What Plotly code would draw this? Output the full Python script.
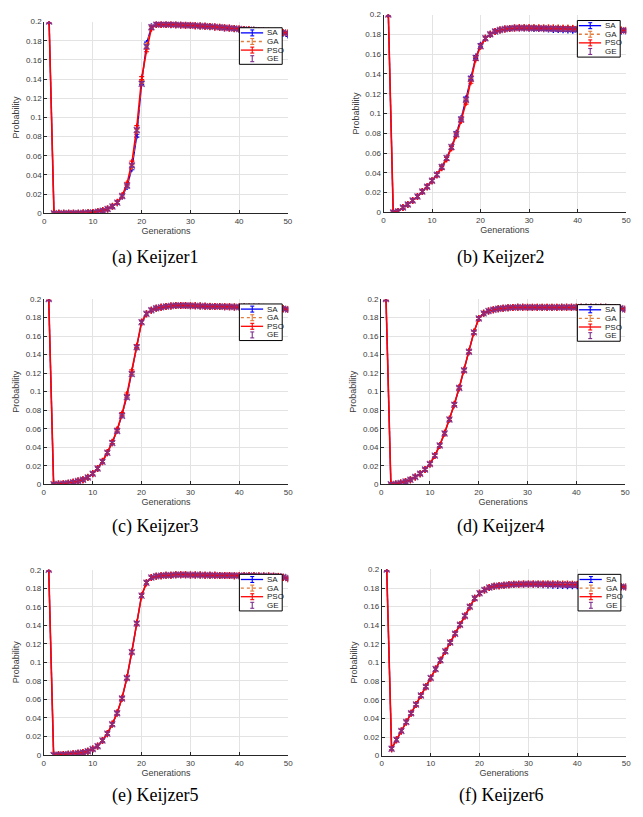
import plotly.graph_objects as go

GENERATIONS = list(range(1, 51))
SERIES_NAMES = ["SA", "GA", "PSO", "GE"]
CAPTIONS = ["(a) Keijzer1", "(b) Keijzer2", "(c) Keijzer3", "(d) Keijzer4", "(e) Keijzer5", "(f) Keijzer6"]
X_TICKS = [0, 10, 20, 30, 40, 50]
Y_TICKS = [0, 0.02, 0.04, 0.06, 0.08, 0.1, 0.12, 0.14, 0.16, 0.18, 0.2]

# ---- Keijzer1 ----
K1_SA = [0.2, 0.0, 0.0, 0.0, 0.0001, 0.0001, 0.0002, 0.0004, 0.0006, 0.001, 0.0017, 0.0028, 0.0045, 0.0071, 0.011, 0.0178, 0.028, 0.047, 0.081, 0.136, 0.177, 0.1945, 0.197, 0.197, 0.1969, 0.1967, 0.1965, 0.1963, 0.1961, 0.1959, 0.1956, 0.1953, 0.195, 0.1946, 0.1942, 0.1937, 0.1933, 0.1929, 0.1925, 0.192, 0.1916, 0.1912, 0.1908, 0.1904, 0.19, 0.1896, 0.1891, 0.1886, 0.1878, 0.186]
K1_GA = [0.2, 0.0, 0.0, 0.0, 0.0001, 0.0001, 0.0002, 0.0004, 0.0006, 0.001, 0.0017, 0.0028, 0.0045, 0.0072, 0.0112, 0.018, 0.029, 0.049, 0.086, 0.137, 0.175, 0.194, 0.197, 0.197, 0.197, 0.1968, 0.1966, 0.1964, 0.1962, 0.196, 0.1957, 0.1954, 0.1951, 0.1948, 0.1944, 0.1939, 0.1935, 0.1931, 0.1927, 0.1922, 0.1918, 0.1914, 0.191, 0.1906, 0.1902, 0.1898, 0.1894, 0.189, 0.1885, 0.188]
K1_PSO = [0.2, 0.0, 0.0, 0.0, 0.0001, 0.0001, 0.0002, 0.0004, 0.0006, 0.001, 0.0017, 0.0029, 0.0046, 0.0074, 0.0115, 0.0185, 0.031, 0.053, 0.09, 0.141, 0.17, 0.193, 0.197, 0.197, 0.197, 0.1968, 0.1966, 0.1964, 0.1962, 0.196, 0.1957, 0.1954, 0.1951, 0.1948, 0.1944, 0.194, 0.1936, 0.1932, 0.1927, 0.1922, 0.1918, 0.1914, 0.191, 0.1906, 0.1902, 0.1898, 0.1894, 0.189, 0.1885, 0.1881]
K1_GE = [0.2, 0.0, 0.0, 0.0, 0.0001, 0.0001, 0.0002, 0.0004, 0.0006, 0.001, 0.0017, 0.0028, 0.0045, 0.0072, 0.0112, 0.018, 0.029, 0.05, 0.087, 0.135, 0.174, 0.194, 0.197, 0.197, 0.197, 0.1968, 0.1966, 0.1964, 0.1962, 0.196, 0.1957, 0.1954, 0.1951, 0.1948, 0.1944, 0.1939, 0.1935, 0.1931, 0.1927, 0.1922, 0.1918, 0.1914, 0.191, 0.1906, 0.1902, 0.1898, 0.1894, 0.189, 0.1885, 0.1879]

# ---- Keijzer2 ----
K2_SA = [0.2, 0.0, 0.001, 0.005, 0.008, 0.012, 0.016, 0.021, 0.026, 0.032, 0.038, 0.046, 0.055, 0.066, 0.08, 0.095, 0.115, 0.136, 0.157, 0.169, 0.176, 0.18, 0.183, 0.1845, 0.1855, 0.186, 0.1864, 0.1865, 0.1864, 0.1862, 0.186, 0.1858, 0.1856, 0.1853, 0.185, 0.1848, 0.1846, 0.1844, 0.1842, 0.1841, 0.184, 0.184, 0.1839, 0.1839, 0.1838, 0.1838, 0.1837, 0.1836, 0.1835, 0.1834]
K2_GA = [0.2, 0.0, 0.001, 0.005, 0.008, 0.012, 0.016, 0.021, 0.026, 0.032, 0.038, 0.046, 0.055, 0.066, 0.079, 0.094, 0.113, 0.134, 0.156, 0.168, 0.176, 0.18, 0.183, 0.1845, 0.1855, 0.186, 0.1865, 0.1866, 0.1866, 0.1866, 0.1866, 0.1866, 0.1865, 0.1865, 0.1864, 0.1864, 0.1863, 0.1862, 0.1861, 0.186, 0.1859, 0.1857, 0.1855, 0.1853, 0.1851, 0.1849, 0.1847, 0.1845, 0.1843, 0.1841]
K2_PSO = [0.2, 0.0, 0.001, 0.005, 0.008, 0.012, 0.016, 0.021, 0.026, 0.032, 0.038, 0.045, 0.054, 0.065, 0.078, 0.093, 0.111, 0.132, 0.155, 0.168, 0.176, 0.18, 0.183, 0.1845, 0.1855, 0.186, 0.1865, 0.1866, 0.1866, 0.1866, 0.1866, 0.1865, 0.1865, 0.1864, 0.1864, 0.1863, 0.1862, 0.1861, 0.186, 0.1859, 0.1858, 0.1856, 0.1854, 0.1852, 0.185, 0.1848, 0.1846, 0.1844, 0.1842, 0.184]
K2_GE = [0.2, 0.0, 0.001, 0.005, 0.008, 0.012, 0.016, 0.021, 0.026, 0.032, 0.038, 0.046, 0.055, 0.066, 0.079, 0.094, 0.114, 0.135, 0.156, 0.168, 0.176, 0.18, 0.183, 0.1845, 0.1855, 0.186, 0.1865, 0.1865, 0.1865, 0.1864, 0.1863, 0.1862, 0.1861, 0.186, 0.1859, 0.1857, 0.1855, 0.1853, 0.1851, 0.185, 0.1849, 0.1848, 0.1847, 0.1846, 0.1845, 0.1844, 0.1843, 0.1842, 0.1841, 0.184]

# ---- Keijzer3 ----
K3_SA = [0.2, 0.0, 0.0003, 0.0007, 0.0013, 0.0022, 0.0035, 0.005, 0.0075, 0.0115, 0.017, 0.0245, 0.034, 0.045, 0.058, 0.075, 0.095, 0.12, 0.148, 0.175, 0.184, 0.188, 0.19, 0.191, 0.192, 0.1925, 0.193, 0.193, 0.193, 0.1928, 0.1926, 0.1924, 0.1922, 0.192, 0.1919, 0.1918, 0.1917, 0.1916, 0.1915, 0.1914, 0.1913, 0.1912, 0.1911, 0.191, 0.1909, 0.1907, 0.1905, 0.1902, 0.1895, 0.1887]
K3_GA = [0.2, 0.0, 0.0003, 0.0007, 0.0013, 0.0022, 0.0035, 0.005, 0.0075, 0.0115, 0.017, 0.0245, 0.034, 0.045, 0.058, 0.075, 0.095, 0.12, 0.148, 0.175, 0.184, 0.188, 0.19, 0.191, 0.192, 0.1925, 0.193, 0.193, 0.193, 0.1929, 0.1927, 0.1925, 0.1923, 0.1921, 0.192, 0.1919, 0.1918, 0.1917, 0.1916, 0.1915, 0.1914, 0.1913, 0.1912, 0.1911, 0.191, 0.1908, 0.1906, 0.1903, 0.1896, 0.1889]
K3_PSO = [0.2, 0.0, 0.0003, 0.0007, 0.0013, 0.0022, 0.0035, 0.005, 0.0076, 0.0116, 0.0172, 0.0248, 0.0345, 0.0455, 0.059, 0.076, 0.097, 0.122, 0.149, 0.175, 0.184, 0.188, 0.19, 0.191, 0.192, 0.1925, 0.193, 0.193, 0.193, 0.1928, 0.1926, 0.1924, 0.1922, 0.192, 0.1919, 0.1918, 0.1917, 0.1916, 0.1915, 0.1914, 0.1913, 0.1912, 0.1911, 0.191, 0.1909, 0.1907, 0.1905, 0.1902, 0.1895, 0.1888]
K3_GE = [0.2, 0.0, 0.0003, 0.0007, 0.0013, 0.0022, 0.0035, 0.005, 0.0075, 0.0115, 0.017, 0.0245, 0.034, 0.0445, 0.0575, 0.074, 0.094, 0.119, 0.148, 0.175, 0.184, 0.188, 0.19, 0.191, 0.192, 0.1925, 0.193, 0.193, 0.193, 0.1928, 0.1926, 0.1924, 0.1922, 0.192, 0.1919, 0.1918, 0.1917, 0.1916, 0.1915, 0.1914, 0.1913, 0.1912, 0.1911, 0.191, 0.1909, 0.1907, 0.1905, 0.1902, 0.1895, 0.1888]

# ---- Keijzer4 ----
K4_SA = [0.2, 0.0, 0.0005, 0.0015, 0.003, 0.005, 0.008, 0.0115, 0.016, 0.022, 0.031, 0.042, 0.055, 0.07, 0.086, 0.104, 0.123, 0.143, 0.164, 0.179, 0.1845, 0.187, 0.1885, 0.1895, 0.19, 0.1905, 0.1908, 0.191, 0.191, 0.1909, 0.1909, 0.1909, 0.1909, 0.1909, 0.1909, 0.1909, 0.191, 0.191, 0.191, 0.191, 0.191, 0.191, 0.191, 0.191, 0.191, 0.191, 0.1908, 0.1905, 0.19, 0.189]
K4_GA = [0.2, 0.0, 0.0005, 0.0015, 0.003, 0.005, 0.008, 0.0115, 0.016, 0.022, 0.031, 0.042, 0.055, 0.07, 0.086, 0.104, 0.123, 0.143, 0.164, 0.179, 0.1845, 0.187, 0.1885, 0.1895, 0.19, 0.1905, 0.1908, 0.191, 0.191, 0.191, 0.1911, 0.1911, 0.1911, 0.1911, 0.1911, 0.1911, 0.1911, 0.1911, 0.1911, 0.1911, 0.1911, 0.1911, 0.1911, 0.1911, 0.1911, 0.1911, 0.1909, 0.1906, 0.1901, 0.1891]
K4_PSO = [0.2, 0.0, 0.0005, 0.0015, 0.003, 0.005, 0.008, 0.0115, 0.016, 0.022, 0.031, 0.042, 0.0555, 0.0705, 0.0865, 0.1045, 0.1235, 0.1435, 0.164, 0.179, 0.1845, 0.187, 0.1885, 0.1895, 0.19, 0.1905, 0.1908, 0.191, 0.191, 0.191, 0.191, 0.191, 0.191, 0.191, 0.191, 0.191, 0.191, 0.191, 0.191, 0.191, 0.191, 0.191, 0.191, 0.191, 0.191, 0.191, 0.1908, 0.1905, 0.19, 0.189]
K4_GE = [0.2, 0.0, 0.0005, 0.0015, 0.003, 0.005, 0.008, 0.0115, 0.016, 0.022, 0.031, 0.042, 0.055, 0.07, 0.086, 0.104, 0.123, 0.143, 0.164, 0.179, 0.1845, 0.187, 0.1885, 0.1895, 0.19, 0.1905, 0.1908, 0.191, 0.191, 0.191, 0.191, 0.191, 0.191, 0.191, 0.191, 0.191, 0.191, 0.191, 0.191, 0.191, 0.191, 0.191, 0.191, 0.191, 0.191, 0.191, 0.1908, 0.1905, 0.19, 0.189]

# ---- Keijzer5 ----
K5_SA = [0.2, 0.0, 0.0002, 0.0005, 0.0008, 0.0012, 0.0018, 0.0027, 0.004, 0.0063, 0.0095, 0.0155, 0.023, 0.033, 0.045, 0.061, 0.083, 0.111, 0.142, 0.172, 0.186, 0.1915, 0.193, 0.1935, 0.194, 0.194, 0.1945, 0.1945, 0.1945, 0.1944, 0.1943, 0.1942, 0.1941, 0.194, 0.1939, 0.1938, 0.1937, 0.1937, 0.1936, 0.1936, 0.1935, 0.1935, 0.1934, 0.1933, 0.1932, 0.1931, 0.193, 0.1927, 0.1918, 0.1905]
K5_GA = [0.2, 0.0, 0.0002, 0.0005, 0.0008, 0.0012, 0.0018, 0.0027, 0.004, 0.0063, 0.0095, 0.0155, 0.023, 0.033, 0.045, 0.061, 0.083, 0.111, 0.142, 0.172, 0.186, 0.1915, 0.193, 0.1935, 0.194, 0.194, 0.1945, 0.1945, 0.1945, 0.1944, 0.1943, 0.1942, 0.1941, 0.194, 0.1939, 0.1938, 0.1937, 0.1937, 0.1936, 0.1936, 0.1935, 0.1935, 0.1934, 0.1933, 0.1932, 0.1931, 0.193, 0.1928, 0.192, 0.191]
K5_PSO = [0.2, 0.0, 0.0002, 0.0005, 0.0008, 0.0012, 0.0018, 0.0027, 0.004, 0.0064, 0.0096, 0.0157, 0.0232, 0.0333, 0.0455, 0.0615, 0.0835, 0.1115, 0.1425, 0.172, 0.186, 0.1915, 0.193, 0.1935, 0.194, 0.194, 0.1945, 0.1945, 0.1945, 0.1944, 0.1943, 0.1942, 0.1941, 0.194, 0.1939, 0.1938, 0.1937, 0.1937, 0.1936, 0.1936, 0.1935, 0.1935, 0.1934, 0.1933, 0.1932, 0.1931, 0.193, 0.1927, 0.1915, 0.19]
K5_GE = [0.2, 0.0, 0.0002, 0.0005, 0.0008, 0.0012, 0.0018, 0.0027, 0.004, 0.0063, 0.0095, 0.0155, 0.023, 0.033, 0.045, 0.061, 0.083, 0.111, 0.142, 0.172, 0.186, 0.1915, 0.193, 0.1935, 0.194, 0.194, 0.1945, 0.1945, 0.1945, 0.1944, 0.1943, 0.1942, 0.1941, 0.194, 0.1939, 0.1938, 0.1937, 0.1937, 0.1936, 0.1936, 0.1935, 0.1935, 0.1934, 0.1933, 0.1932, 0.1931, 0.193, 0.1928, 0.192, 0.191]

# ---- Keijzer6 ----
K6_SA = [0.2, 0.0075, 0.017, 0.0265, 0.036, 0.0455, 0.055, 0.0645, 0.074, 0.0835, 0.093, 0.1025, 0.112, 0.1215, 0.131, 0.1405, 0.15, 0.16, 0.169, 0.1745, 0.178, 0.1805, 0.182, 0.1825, 0.183, 0.1835, 0.1838, 0.184, 0.1841, 0.1841, 0.184, 0.1838, 0.1836, 0.1833, 0.183, 0.1828, 0.1826, 0.1825, 0.1824, 0.1824, 0.1824, 0.1825, 0.1826, 0.1826, 0.1826, 0.1825, 0.1823, 0.1821, 0.1814, 0.181]
K6_GA = [0.2, 0.0075, 0.017, 0.0265, 0.036, 0.0455, 0.055, 0.0645, 0.074, 0.0835, 0.093, 0.1025, 0.112, 0.1215, 0.131, 0.1405, 0.15, 0.16, 0.169, 0.1745, 0.178, 0.1805, 0.182, 0.1825, 0.183, 0.1835, 0.184, 0.184, 0.1842, 0.1843, 0.1844, 0.1844, 0.1844, 0.1844, 0.1843, 0.1843, 0.1842, 0.1842, 0.1841, 0.184, 0.1838, 0.1836, 0.1834, 0.1832, 0.183, 0.1828, 0.1826, 0.1823, 0.1816, 0.1811]
K6_PSO = [0.2, 0.0075, 0.017, 0.0265, 0.036, 0.0455, 0.055, 0.0645, 0.074, 0.0835, 0.093, 0.1025, 0.112, 0.1215, 0.131, 0.1405, 0.15, 0.16, 0.169, 0.1745, 0.178, 0.1805, 0.182, 0.1825, 0.183, 0.1835, 0.184, 0.184, 0.1842, 0.1843, 0.1843, 0.1843, 0.1843, 0.1843, 0.1842, 0.1842, 0.1841, 0.1841, 0.184, 0.1839, 0.1837, 0.1835, 0.1833, 0.1831, 0.1829, 0.1827, 0.1825, 0.1822, 0.1815, 0.181]
K6_GE = [0.2, 0.0075, 0.017, 0.0265, 0.036, 0.0455, 0.055, 0.0645, 0.074, 0.0835, 0.093, 0.1025, 0.112, 0.1215, 0.131, 0.1405, 0.15, 0.16, 0.169, 0.1745, 0.178, 0.1805, 0.182, 0.1825, 0.183, 0.1835, 0.184, 0.184, 0.1842, 0.1843, 0.1843, 0.1843, 0.1842, 0.1842, 0.1841, 0.1841, 0.184, 0.184, 0.1839, 0.1838, 0.1836, 0.1834, 0.1832, 0.183, 0.1828, 0.1826, 0.1824, 0.1822, 0.1815, 0.181]

# error bar half-widths (std) per series
SA_ERR = 0.0015
GA_ERR = 0.0015
PSO_ERR = 0.0015
GE_ERR = 0.002

PANEL_DATA = [
    (K1_SA, K1_GA, K1_PSO, K1_GE),
    (K2_SA, K2_GA, K2_PSO, K2_GE),
    (K3_SA, K3_GA, K3_PSO, K3_GE),
    (K4_SA, K4_GA, K4_PSO, K4_GE),
    (K5_SA, K5_GA, K5_PSO, K5_GE),
    (K6_SA, K6_GA, K6_PSO, K6_GE),
]

# ---------------- layout geometry (pixels) ----------------
W, H = 643, 817
# (left, right, top, bottom) of each plot area
AREAS = [
    (42.7, 289.0, 17.7, 211.7),
    (385.7, 631.0, 10.7, 210.7),
    (42.3, 289.3, 298.3, 485.7),
    (383.3, 630.0, 298.3, 485.7),
    (42.3, 289.3, 572.0, 759.3),
    (384.0, 631.0, 571.7, 760.0),
]
# legend box (right, top) and size
LEGEND_POS = [(283.3, 24.0), (625.0, 16.7), (283.3, 303.3), (625.0, 304.0), (283.3, 576.7), (625.7, 576.7)]
LEG_W, LEG_H, LEG_ROW = 43.3, 37.0, 8.7
CAPTION_POS = [(155, 256), (504, 256), (155, 528), (504, 528), (155, 800), (504, 800)]

STYLES = {
    "SA": dict(color="#0000ff", dash="solid", width=1.3, err=SA_ERR, mode="lines+markers", symbol="line-ns-open", line_in_legend=True),
    "GA": dict(color="#e07b39", dash="dot", width=1.3, err=GA_ERR, mode="lines+markers", symbol="line-ns-open", line_in_legend=True),
    "PSO": dict(color="#ff0000", dash="solid", width=1.6, err=PSO_ERR, mode="lines+markers", symbol="line-ns-open", line_in_legend=True),
    "GE": dict(color="#7e2f8e", dash="solid", width=1.3, err=GE_ERR, mode="markers", symbol="x-thin-open", line_in_legend=False),
}

FONT = "Liberation Sans, Arial, Helvetica, sans-serif"
TICK_COLOR = "#3c3c3c"


def px(x, y):
    return x / W, 1 - y / H


fig = go.Figure()
shapes = []
annotations = []
layout = dict(
    width=W, height=H,
    margin=dict(l=0, r=0, t=0, b=0),
    paper_bgcolor="white", plot_bgcolor="white",
    font=dict(family=FONT, size=8, color=TICK_COLOR),
    showlegend=False,
)

for i, series in enumerate(PANEL_DATA):
    n = i + 1
    xa = "x" if n == 1 else f"x{n}"
    ya = "y" if n == 1 else f"y{n}"
    for name, values in zip(SERIES_NAMES, series):
        st = STYLES[name]
        fig.add_trace(go.Scatter(
            x=GENERATIONS, y=values, name=name, mode=st["mode"],
            line=dict(color=st["color"], dash=st["dash"], width=st["width"]),
            marker=dict(symbol=st["symbol"], size=6 if name == "GE" else 5, color=st["color"],
                        line=dict(color=st["color"], width=1.4)),
            opacity=0.85 if name == "GE" else 1.0,
            error_y=dict(type="constant", value=st["err"], color=st["color"],
                         thickness=1.1, width=2.5),
            xaxis=xa, yaxis=ya,
        ))
    l, r, t, b = AREAS[i]
    axis_common = dict(
        showline=True, linecolor="#262626", linewidth=1, mirror=False,
        showgrid=True, gridcolor="#e3e3e3", gridwidth=1, zeroline=False,
        ticks="inside", ticklen=3, tickcolor="#262626",
        tickfont=dict(family=FONT, size=8, color=TICK_COLOR),
    )
    layout["xaxis" if n == 1 else f"xaxis{n}"] = dict(
        axis_common, domain=[l / W, r / W], range=[0, 50], tickvals=X_TICKS,
        anchor=ya,
        title=dict(text="Generations", font=dict(family=FONT, size=9, color=TICK_COLOR), standoff=2),
    )
    layout["yaxis" if n == 1 else f"yaxis{n}"] = dict(
        axis_common, domain=[1 - b / H, 1 - t / H], range=[0, 0.2], tickvals=Y_TICKS,
        anchor=xa,
        title=dict(text="Probability", font=dict(family=FONT, size=9, color=TICK_COLOR), standoff=4),
    )

    # ---- legend box (one per panel) ----
    R, T = LEGEND_POS[i]
    L, B = R - LEG_W, T + LEG_H
    x0, y0 = px(L, B)
    x1, y1 = px(R, T)
    shapes.append(dict(type="rect", xref="paper", yref="paper", x0=x0, y0=y0, x1=x1, y1=y1,
                       fillcolor="white", line=dict(color="black", width=1), layer="above"))
    for k, name in enumerate(SERIES_NAMES):
        st = STYLES[name]
        yc = T + 5.2 + k * LEG_ROW
        gx = L + 13
        if st["line_in_legend"]:
            ax0, ay = px(L + 1.5, yc)
            ax1, _ = px(L + 24, yc)
            shapes.append(dict(type="line", xref="paper", yref="paper", x0=ax0, y0=ay, x1=ax1, y1=ay,
                               line=dict(color=st["color"], width=1.3, dash=st["dash"]), layer="above"))
        # error-bar glyph
        for (xa0, ya0, xa1, ya1) in [(gx, yc - 3, gx, yc + 3), (gx - 2, yc - 3, gx + 2, yc - 3),
                                     (gx - 2, yc + 3, gx + 2, yc + 3)]:
            p0 = px(xa0, ya0)
            p1 = px(xa1, ya1)
            shapes.append(dict(type="line", xref="paper", yref="paper", x0=p0[0], y0=p0[1], x1=p1[0], y1=p1[1],
                               line=dict(color=st["color"], width=1.1), layer="above"))
        tx, ty = px(L + 26, yc)
        annotations.append(dict(text=name, x=tx, y=ty, xref="paper", yref="paper",
                                xanchor="left", yanchor="middle", showarrow=False,
                                font=dict(family=FONT, size=8, color="#1a1a1a")))

    cx, cy = CAPTION_POS[i]
    annotations.append(dict(
        text=CAPTIONS[i], x=cx / W, y=1 - cy / H, xref="paper", yref="paper",
        xanchor="center", yanchor="middle", showarrow=False,
        font=dict(family="Liberation Serif, Times New Roman, serif", size=18, color="#000000"),
    ))

layout["shapes"] = shapes
layout["annotations"] = annotations
fig.update_layout(**layout)
fig.write_html("out.html", config={"displayModeBar": False},
               post_script="document.body.style.margin='0px';")
